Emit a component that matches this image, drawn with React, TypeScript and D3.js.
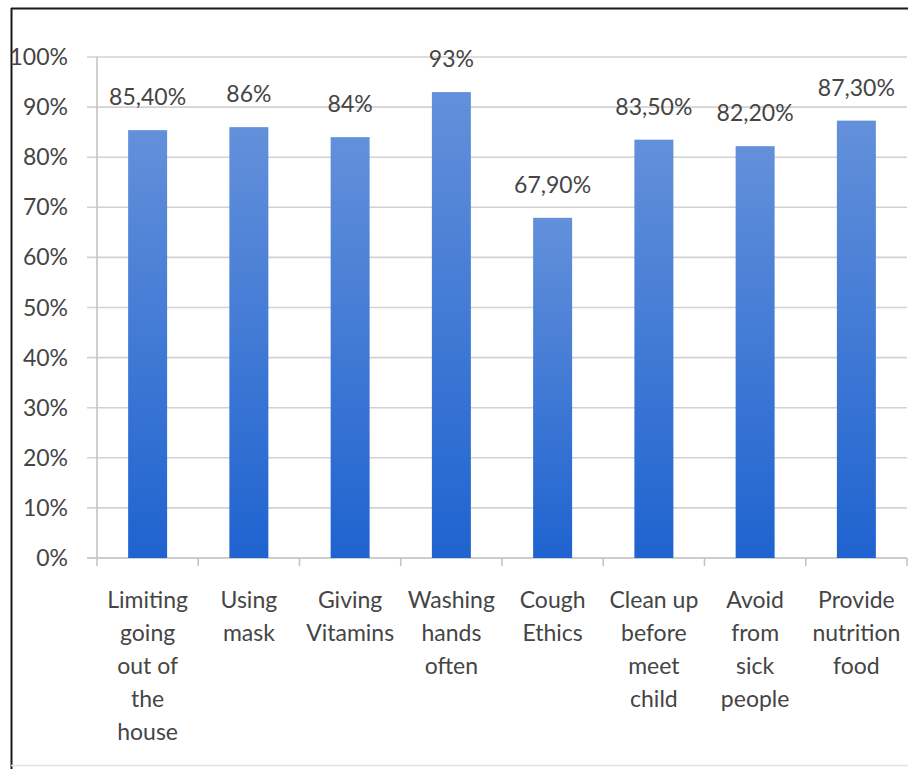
import React from "react";
import * as d3 from "d3";

const categories = [
  "Limiting\ngoing\nout of\nthe\nhouse",
  "Using\nmask",
  "Giving\nVitamins",
  "Washing\nhands\noften",
  "Cough\nEthics",
  "Clean up\nbefore\nmeet\nchild",
  "Avoid\nfrom\nsick\npeople",
  "Provide\nnutrition\nfood",
];
const values = [0.854, 0.86, 0.84, 0.93, 0.679, 0.835, 0.822, 0.873];
const valueLabels = ["85,40%", "86%", "84%", "93%", "67,90%", "83,50%", "82,20%", "87,30%"];
const yTicks = [0, 0.1, 0.2, 0.3, 0.4, 0.5, 0.6, 0.7, 0.8, 0.9, 1.0];

const W = 908;
const H = 769;
const left = 97;
const right = 907;
const top = 57;
const bottom = 558;
const FONT = "Lato, 'Open Sans', sans-serif";
const TEXT = "#454545";

export default function App() {
  const x = d3
    .scaleBand<string>()
    .domain(categories)
    .range([left, right])
    .paddingInner(0.615)
    .paddingOuter(0.3075);
  const y = d3.scaleLinear().domain([0, 1]).range([bottom, top]);
  const step = x.step();
  const fmt = d3.format(".0%");

  return (
    <svg
      width={W}
      height={H}
      style={{ position: "absolute", left: 0, top: 0, background: "#fff" }}
    >
      <defs>
        <linearGradient id="barGrad" x1="0" y1="0" x2="0" y2="1">
          <stop offset="0%" stopColor="#6390da" />
          <stop offset="100%" stopColor="#1f63d0" />
        </linearGradient>
      </defs>
      {/* frame */}
      <line x1={11.5} y1={8} x2={11.5} y2={H} stroke="#1a1a1a" strokeWidth={2} />
      <line x1={11} y1={8.5} x2={W} y2={8.5} stroke="#1a1a1a" strokeWidth={2} />
      <line x1={11} y1={765.5} x2={W} y2={765.5} stroke="#e2e2e2" strokeWidth={1.5} />

      {/* gridlines */}
      {yTicks.map((t) => (
        <line
          key={"g" + t}
          x1={left - 10}
          x2={right}
          y1={y(t)}
          y2={y(t)}
          stroke={t === 0 ? "#bcbcbc" : "#d2d2d2"}
          strokeWidth={1.6}
        />
      ))}
      {/* y axis */}
      <line x1={left} x2={left} y1={top} y2={bottom} stroke="#c4c4c4" strokeWidth={1.6} />
      {yTicks.map((t) => (
        <text
          key={"yl" + t}
          x={68}
          y={y(t)}
          dy="0.35em"
          textAnchor="end"
          fontFamily={FONT}
          fontSize={23}
          fill={TEXT}
        >
          {fmt(t)}
        </text>
      ))}
      {/* x ticks */}
      {d3.range(categories.length + 1).map((i) => (
        <line
          key={"xt" + i}
          x1={left + i * step}
          x2={left + i * step}
          y1={bottom}
          y2={bottom + 8}
          stroke="#c4c4c4"
          strokeWidth={1.6}
        />
      ))}
      {/* bars */}
      {categories.map((c, i) => (
        <rect
          key={"b" + i}
          x={x(c)}
          y={y(values[i])}
          width={x.bandwidth()}
          height={y(0) - y(values[i])}
          fill="url(#barGrad)"
        />
      ))}
      {/* value labels */}
      {categories.map((c, i) => (
        <text
          key={"v" + i}
          x={(x(c) as number) + x.bandwidth() / 2}
          y={y(values[i]) - 25}
          textAnchor="middle"
          fontFamily={FONT}
          fontSize={23}
          fill={TEXT}
        >
          {valueLabels[i]}
        </text>
      ))}
      {/* category labels */}
      {categories.map((c, i) => (
        <text
          key={"c" + i}
          textAnchor="middle"
          fontFamily={FONT}
          fontSize={23}
          fill={TEXT}
        >
          {c.split("\n").map((ln, j) => (
            <tspan key={j} x={(x(c) as number) + x.bandwidth() / 2} y={608 + j * 33}>
              {ln}
            </tspan>
          ))}
        </text>
      ))}
    </svg>
  );
}
